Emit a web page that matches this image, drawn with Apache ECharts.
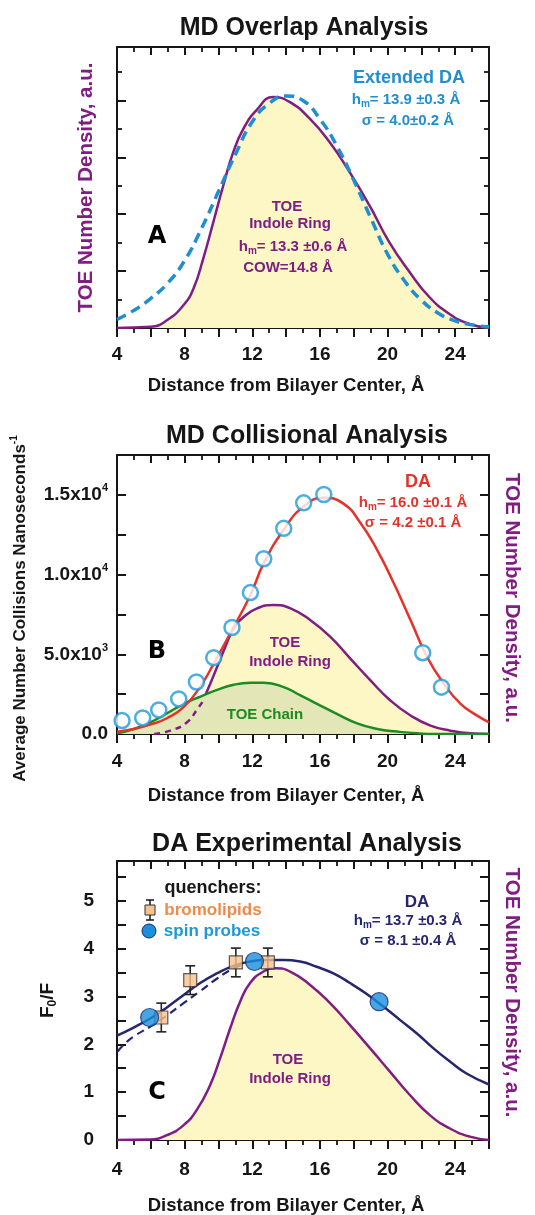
<!DOCTYPE html>
<html>
<head>
<meta charset="utf-8">
<script src="https://cdn.jsdelivr.net/npm/echarts@6/dist/echarts.min.js"></script>
<style>
    html, body { margin: 0; padding: 0; background: #fff; }
    #chart { width: 535px; height: 1215px; }
</style>
</head>
<body>
<div id="chart"></div>
<script>
// ---- Panel A: MD overlap (arbitrary density units) ----
const aRingX = [4, 6, 6.95, 7.93, 8.52, 9.1, 9.7, 10.29, 10.88, 11.47, 12.25, 13.23, 14.2, 15.4, 16.57, 17.75, 18.93, 20.1, 21.3, 22.47, 23.65, 24.8, 26];
const aRingY = [0, 0.04, 0.27, 0.8, 1.38, 2.44, 3.73, 5.02, 6.19, 7.0, 7.66, 8.12, 7.95, 7.36, 6.54, 5.49, 4.31, 3.02, 1.97, 1.09, 0.5, 0.15, 0];
const aDaX = [4, 5, 6, 7, 8, 9, 10, 11, 12, 13, 14, 15, 16, 17, 18, 19, 20, 21, 22, 23, 24, 25, 26];
const aDaY = [0.3, 0.62, 1.04, 1.58, 2.37, 3.5, 4.8, 6.1, 7.25, 7.9, 8.16, 8.0, 7.35, 6.4, 5.2, 3.88, 2.6, 1.66, 0.98, 0.52, 0.25, 0.11, 0.04];

// ---- Panel B: MD collisions ----
const bDotX = [4.3, 5.52, 6.47, 7.65, 8.7, 9.72, 10.8, 11.89, 12.68, 13.86, 15.04, 16.23, 22.08, 23.19];
const bDotY = [840, 1010, 1510, 2200, 3260, 4790, 6680, 8870, 10990, 12900, 14500, 15020, 5100, 2940];
const bFitX = [4, 4.99, 5.97, 6.96, 7.94, 8.93, 9.72, 10.8, 11.89, 12.68, 13.86, 15.05, 16.23, 17.41, 18.4, 19.38, 20.37, 21.36, 22.34, 23.33, 24.32, 25.3, 26];
const bFitY = [147, 315, 588, 987, 1680, 2983, 4412, 6513, 8718, 10714, 12815, 14286, 14811, 14433, 13235, 11555, 9454, 7143, 4832, 3151, 1891, 1155, 735];
const bRingDashX = [6.2, 7.15, 8.14, 8.83, 9.05];
const bRingDashY = [0, 210, 740, 1680, 2000];
const bRingX = [9.05, 9.52, 9.92, 10.41, 10.9, 11.5, 12.28, 13.27, 14.26, 15.44, 16.62, 17.8, 18.99, 20.17, 21.36, 22.54, 23.72, 24.9, 26];
const bRingY = [2000, 3170, 4200, 5480, 6620, 7350, 7880, 8090, 7880, 7140, 6090, 4730, 3360, 2100, 1160, 525, 210, 40, 0];
const bChainX = [4, 4.99, 5.97, 6.96, 7.94, 8.93, 9.92, 10.9, 11.89, 12.68, 13.86, 14.85, 15.83, 17.0, 18.2, 19.4, 20.57, 21.75, 22.9, 26];
const bChainY = [40, 315, 735, 1300, 1890, 2350, 2770, 3090, 3210, 3210, 2940, 2420, 1890, 1260, 670, 315, 150, 40, 0, 0];

// ---- Panel C: experimental F0/F ----
const cFitX = [4, 4.98, 5.97, 6.95, 7.94, 8.92, 9.9, 10.89, 11.87, 12.86, 13.84, 14.83, 15.81, 16.8, 17.78, 18.77, 19.75, 20.73, 21.72, 22.7, 23.69, 24.67, 26];
const cFitY = [2.18, 2.35, 2.54, 2.77, 3.03, 3.28, 3.48, 3.64, 3.73, 3.76, 3.76, 3.73, 3.62, 3.48, 3.28, 3.05, 2.79, 2.51, 2.23, 1.92, 1.64, 1.39, 1.16];
const cFitDashX = [4.04, 4.4, 4.98, 5.97, 6.95, 7.94, 8.92, 9.9, 10.89, 11.5];
const cFitDashY = [1.85, 1.99, 2.16, 2.37, 2.6, 2.86, 3.11, 3.37, 3.59, 3.67];
const cRingX = [4, 5.97, 6.95, 7.94, 8.72, 9.51, 10.1, 10.69, 11.28, 11.87, 12.66, 13.35, 14.24, 15.42, 16.6, 17.78, 18.96, 20.14, 21.32, 22.5, 23.69, 24.87, 26];
const cRingY = [0, 0.01, 0.1, 0.31, 0.63, 1.15, 1.71, 2.33, 2.89, 3.28, 3.52, 3.59, 3.52, 3.24, 2.86, 2.4, 1.92, 1.43, 0.94, 0.52, 0.24, 0.07, 0];
const bromoX = [6.62, 8.33, 11.03, 12.92];
const bromoY = [2.56, 3.34, 3.71, 3.71];
const bromoErr = [0.3, 0.3, 0.3, 0.3];
const spinX = [5.93, 12.13, 19.5];
const spinY = [2.56, 3.73, 2.89];

const xTickLabels = [4, 8, 12, 16, 20, 24];

// colours / fonts
const ink = '#161616';
const purple = '#7f1d82';
const yellow = '#fcf7c5';
const blueDash = '#1f8fd0';
const red = '#e5332a';
const green = '#1e8a23';
const greenFill = '#e3e6b6';
const navy = '#25266e';
const orangeText = '#ef8a4b';
const blueText = '#1c99d6';
const ff = '"Liberation Sans", Arial, sans-serif';
const ffHeavy = '"DejaVu Sans", sans-serif';
const smooth = 0.5;

const pairs = (xs, ys) => xs.map((x, i) => [x, ys[i]]);

const chart = echarts.init(document.getElementById('chart'));

function bottomX(gi, labelMargin, nameGap) {
    return {
        gridIndex: gi, type: 'value', position: 'bottom', min: 4, max: 26, interval: 2,
        axisLine: {onZero: false, lineStyle: {color: ink, width: 2}},
        axisTick: {inside: false, length: 9, lineStyle: {color: ink, width: 2}},
        minorTick: {show: true, splitNumber: 2, length: 5, lineStyle: {color: ink, width: 1.8}},
        splitLine: {show: false},
        axisLabel: {
            margin: labelMargin, color: ink, fontFamily: ff, fontWeight: 'bold', fontSize: 19,
            formatter: v => xTickLabels.indexOf(v) >= 0 ? String(v) : ''
        },
        name: 'Distance from Bilayer Center, Å', nameLocation: 'middle', nameGap: nameGap,
        nameTextStyle: {color: ink, fontFamily: ff, fontWeight: 'bold', fontSize: 18.5, padding: [0, 34, 0, 0]}
    };
}
function topX(gi) {
    return {
        gridIndex: gi, type: 'value', position: 'top', min: 4, max: 26, interval: 2,
        axisLine: {onZero: false, lineStyle: {color: ink, width: 2}},
        axisTick: {inside: true, length: 8, lineStyle: {color: ink, width: 2}},
        minorTick: {show: true, splitNumber: 2, length: 5, lineStyle: {color: ink, width: 1.8}},
        splitLine: {show: false},
        axisLabel: {show: false}
    };
}
function sideY(gi, pos, max, interval, extra) {
    return Object.assign({
        gridIndex: gi, type: 'value', position: pos, min: 0, max: max, interval: interval,
        axisLine: {show: true, onZero: false, lineStyle: {color: ink, width: 2}},
        axisTick: {show: true, inside: true, length: 9, lineStyle: {color: ink, width: 2}},
        splitLine: {show: false},
        axisLabel: {show: false}
    }, extra || {});
}

const subRich = (size, color) => ({
    n: {fontSize: size, fontWeight: 'bold', fontFamily: ff, color: color, lineHeight: size + 4},
    s: {fontSize: Math.round(size * 0.62), fontWeight: 'bold', fontFamily: ff, color: color, lineHeight: 10, verticalAlign: 'bottom'}
});

// graphic text helpers
function txt(text, x, y, size, color, heavy) {
    return {
        type: 'text', x: x, y: y, z: 50,
        style: {
            text: text, fill: color, align: 'center', verticalAlign: 'middle',
            font: 'bold ' + size + 'px ' + (heavy ? ffHeavy : ff)
        }
    };
}
function hm(text, x, y, size, color) {
    const f = 'bold ' + size + 'px ' + ff;
    const fs = 'bold ' + Math.round(size * 0.66) + 'px ' + ff;
    return {
        type: 'text', x: x, y: y, z: 50,
        style: {
            text: '{n|h}{s|m}{n|' + text + '}', align: 'center', verticalAlign: 'middle', fill: color,
            rich: {
                n: {font: f, fill: color, lineHeight: size + 4},
                s: {font: fs, fill: color, lineHeight: 10, verticalAlign: 'bottom'}
            }
        }
    };
}
function curve(name, axis, xs, ys, color, width, z, extra) {
    return Object.assign({
        name: name, type: 'line', xAxisIndex: axis, yAxisIndex: axis, data: pairs(xs, ys),
        smooth: smooth, showSymbol: false, z: z,
        lineStyle: {color: color, width: width}
    }, extra || {});
}

const titleStyle = {fontFamily: ff, fontWeight: 'bold', fontSize: 25, color: ink};

const option = {
    animation: false,
    backgroundColor: '#fff',
    title: [
        {text: 'MD Overlap Analysis', left: 299, top: 11, textAlign: 'center', textStyle: titleStyle},
        {text: 'MD Collisional Analysis', left: 302, top: 419, textAlign: 'center', textStyle: titleStyle},
        {text: 'DA Experimental Analysis', left: 302, top: 827, textAlign: 'center', textStyle: titleStyle}
    ],
    grid: [
        {left: 117, top: 47, width: 372, height: 281, outerBoundsMode: 'none'},
        {left: 117, top: 455, width: 372, height: 279, outerBoundsMode: 'none'},
        {left: 117, top: 861, width: 372, height: 279, outerBoundsMode: 'none'}
    ],
    xAxis: [
        bottomX(0, 17, 48), topX(0),
        bottomX(1, 18, 52), topX(1),
        bottomX(2, 20, 56), topX(2)
    ],
    yAxis: [
        sideY(0, 'left', 9.88, 2, {
            minorTick: {show: true, splitNumber: 2, length: 5, lineStyle: {color: ink, width: 1.8}},
            name: 'TOE Number Density, a.u.', nameLocation: 'middle', nameGap: 20, nameRotate: 90,
            nameTextStyle: {color: purple, fontFamily: ff, fontWeight: 'bold', fontSize: 20.5}
        }),
        sideY(0, 'right', 9.88, 2, {
            minorTick: {show: true, splitNumber: 2, length: 5, lineStyle: {color: ink, width: 1.8}}
        }),
        sideY(1, 'left', 17500, 2500, {
            axisLabel: {
                show: true, margin: 9,
                formatter: v => {
                    if (v === 0) return '{a|0.0}';
                    if (v % 5000 !== 0) return '';
                    const e = v >= 10000 ? 4 : 3;
                    return '{a|' + (v / Math.pow(10, e)).toFixed(1) + 'x10}{p|' + e + '}';
                },
                rich: {
                    a: {fontSize: 19, fontWeight: 'bold', fontFamily: ff, color: ink, lineHeight: 24},
                    p: {fontSize: 11, fontWeight: 'bold', fontFamily: ff, color: ink, lineHeight: 10, verticalAlign: 'top'}
                }
            },
            name: '{a|Average Number Collisions Nanoseconds}{p|-1}', nameLocation: 'middle', nameGap: 86, nameRotate: 90,
            nameTextStyle: {
                padding: [0, 28, 0, 0],
                rich: {
                    a: {fontSize: 17, fontWeight: 'bold', fontFamily: ff, color: ink, lineHeight: 22},
                    p: {fontSize: 10, fontWeight: 'bold', fontFamily: ff, color: ink, lineHeight: 10, verticalAlign: 'top'}
                }
            }
        }),
        sideY(1, 'right', 17500, 2500, {
            name: 'TOE Number Density, a.u.', nameLocation: 'middle', nameGap: 12, nameRotate: -90,
            nameTextStyle: {color: purple, fontFamily: ff, fontWeight: 'bold', fontSize: 20.5, padding: [0, 0, 0, 7]}
        }),
        sideY(2, 'left', 5.83, 0.5, {
            axisLabel: {
                show: true, margin: 23, color: ink, fontFamily: ff, fontWeight: 'bold', fontSize: 19,
                formatter: v => (Number.isInteger(v) ? String(v) : '')
            },
            name: '{n|F}{s|0}{n|/F}', nameLocation: 'middle', nameGap: 58, nameRotate: 90,
            nameTextStyle: {rich: subRich(19, ink)}
        }),
        sideY(2, 'right', 5.83, 0.5, {
            name: 'TOE Number Density, a.u.', nameLocation: 'middle', nameGap: 12, nameRotate: -90,
            nameTextStyle: {color: purple, fontFamily: ff, fontWeight: 'bold', fontSize: 20.5, padding: [0, 16, 0, 0]}
        })
    ],
    series: [
        // A
        curve('aRing', 0, aRingX, aRingY, purple, 2.5, 2, {areaStyle: {color: yellow, opacity: 1}}),
        curve('aDa', 0, aDaX, aDaY, blueDash, 3.5, 3, {lineStyle: {color: blueDash, width: 3.5, type: [10, 6]}}),
        // B
        curve('bRing', 2, bRingX, bRingY, purple, 2.5, 2, {areaStyle: {color: yellow, opacity: 1}}),
        curve('bChain', 2, bChainX, bChainY, green, 2.5, 3, {areaStyle: {color: greenFill, opacity: 1}}),
        curve('bRingDash', 2, bRingDashX, bRingDashY, purple, 2.5, 4, {lineStyle: {color: purple, width: 2.5, type: [6, 5]}}),
        curve('bFit', 2, bFitX, bFitY, red, 2.5, 5),
        {name: 'bDots', type: 'scatter', xAxisIndex: 2, yAxisIndex: 2, data: pairs(bDotX, bDotY),
            symbol: 'circle', symbolSize: 15, z: 6,
            itemStyle: {color: '#fff', borderColor: '#1e9ad6', borderWidth: 2.5}},
        // C
        curve('cRing', 4, cRingX, cRingY, purple, 2.5, 2, {areaStyle: {color: yellow, opacity: 1}}),
        curve('cFitDash', 4, cFitDashX, cFitDashY, navy, 2.2, 3, {lineStyle: {color: navy, width: 2.2, type: [8, 5]}}),
        curve('cFit', 4, cFitX, cFitY, navy, 2.5, 3),
        {name: 'bromoErr', type: 'custom', xAxisIndex: 4, yAxisIndex: 4, z: 4,
            data: bromoX.map((x, i) => [x, bromoY[i] - bromoErr[i], bromoY[i] + bromoErr[i]]),
            encode: {x: 0, y: [1, 2]},
            renderItem: function(params, api) {
                const lo = api.coord([api.value(0), api.value(1)]);
                const hi = api.coord([api.value(0), api.value(2)]);
                const st = {stroke: '#222', lineWidth: 1.6};
                return {type: 'group', children: [
                    {type: 'line', shape: {x1: lo[0], y1: lo[1], x2: hi[0], y2: hi[1]}, style: st},
                    {type: 'line', shape: {x1: hi[0] - 5, y1: hi[1], x2: hi[0] + 5, y2: hi[1]}, style: st},
                    {type: 'line', shape: {x1: lo[0] - 5, y1: lo[1], x2: lo[0] + 5, y2: lo[1]}, style: st}
                ]};
            }},
        {name: 'bromolipids', type: 'scatter', xAxisIndex: 4, yAxisIndex: 4, data: pairs(bromoX, bromoY),
            symbol: 'rect', symbolSize: 13, z: 5,
            itemStyle: {color: '#f7c28e', borderColor: '#333', borderWidth: 1.2}},
        {name: 'spin probes', type: 'scatter', xAxisIndex: 4, yAxisIndex: 4, data: pairs(spinX, spinY),
            symbol: 'circle', symbolSize: 18, z: 6,
            itemStyle: {color: '#1a8fdc', borderColor: '#1b2a6b', borderWidth: 1.2}}
    ],
    graphic: [
        // A
        txt('Extended DA', 409, 78, 18, blueDash),
        hm('= 13.9 ±0.3 Å', 406, 100, 15, blueDash),
        txt('σ = 4.0±0.2 Å', 408, 121, 15, blueDash),
        txt('TOE', 287, 207, 15, purple),
        txt('Indole Ring', 290, 224, 15, purple),
        hm('= 13.3 ±0.6 Å', 293, 247, 15, purple),
        txt('COW=14.8 Å', 288, 268, 15, purple),
        txt('A', 157, 237, 24, '#000', true),
        // B
        txt('DA', 418, 482, 18, red),
        hm('= 16.0 ±0.1 Å', 413, 503, 15, red),
        txt('σ = 4.2 ±0.1 Å', 413, 523, 15, red),
        txt('B', 157, 652, 24, '#000', true),
        txt('TOE', 285, 643, 15, purple),
        txt('Indole Ring', 290, 662, 15, purple),
        txt('TOE Chain', 265, 715, 15, green),
        // C
        txt('quenchers:', 213, 888, 18, ink),
        {type: 'line', z: 50, shape: {x1: 150, y1: 900, x2: 150, y2: 920}, style: {stroke: '#222', lineWidth: 1.6}},
        {type: 'line', z: 50, shape: {x1: 146, y1: 900, x2: 154, y2: 900}, style: {stroke: '#222', lineWidth: 1.6}},
        {type: 'line', z: 50, shape: {x1: 146, y1: 920, x2: 154, y2: 920}, style: {stroke: '#222', lineWidth: 1.6}},
        {type: 'rect', z: 51, shape: {x: 145, y: 905, width: 10, height: 10}, style: {fill: '#f7c28e', stroke: '#333', lineWidth: 1}},
        {type: 'circle', z: 51, shape: {cx: 149, cy: 931, r: 7}, style: {fill: '#1a8fdc', stroke: '#1b2a6b', lineWidth: 1}},
        txt('bromolipids', 213, 910, 17, orangeText),
        txt('spin probes', 212, 931, 17, blueText),
        txt('DA', 417, 902, 17, navy),
        hm('= 13.7 ±0.3 Å', 408, 921, 15, navy),
        txt('σ = 8.1 ±0.4 Å', 408, 941, 15, navy),
        txt('C', 157, 1093, 24, '#000', true),
        txt('TOE', 288, 1060, 15, purple),
        txt('Indole Ring', 290, 1079, 15, purple)
    ]
};
chart.setOption(option);
</script>
</body>
</html>
